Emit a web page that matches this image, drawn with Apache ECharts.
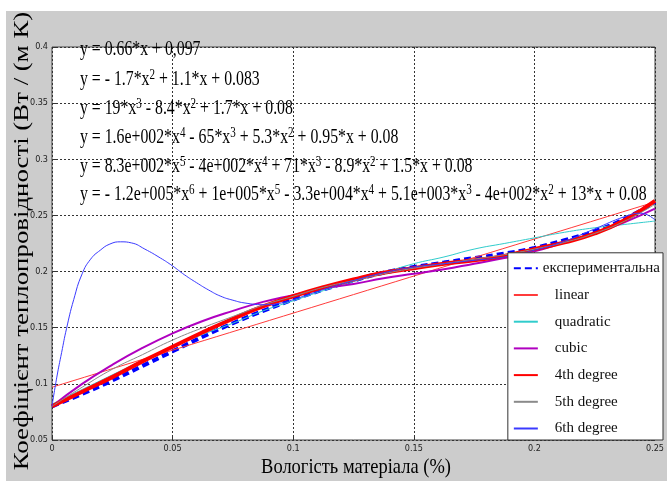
<!DOCTYPE html>
<html>
<head>
<meta charset="utf-8">
<script src="https://cdn.jsdelivr.net/npm/echarts@6/dist/echarts.min.js"></script>
<style>
html, body { margin: 0; padding: 0; background: #fff; }
#bg { position: absolute; left: 6px; top: 11px; width: 661px; height: 470px; background: #cccccc; }
#chart { position: absolute; left: 0; top: 0; width: 667px; height: 481px; }
</style>
</head>
<body>
<div id="bg"></div>
<div id="chart"></div>
<script>
const xs = [0, 0.0125, 0.025, 0.0375, 0.05, 0.0625, 0.075, 0.0875, 0.1, 0.1125, 0.125,
  0.1375, 0.15, 0.1625, 0.175, 0.1875, 0.2, 0.2125, 0.225, 0.2375, 0.25];

const experimental = [0.080, 0.091, 0.103, 0.116, 0.129, 0.142, 0.154, 0.165, 0.175, 0.184, 0.192,
  0.199, 0.204, 0.208, 0.212, 0.216, 0.221, 0.228, 0.236, 0.247, 0.262];
const quadratic = [0.082, 0.095, 0.108, 0.121, 0.133, 0.144, 0.154, 0.165, 0.174, 0.183, 0.191,
  0.199, 0.207, 0.213, 0.220, 0.225, 0.230, 0.235, 0.239, 0.242, 0.245];
const cubic = [0.080, 0.100, 0.117, 0.132, 0.145, 0.156, 0.165, 0.173, 0.179, 0.185, 0.189,
  0.194, 0.198, 0.202, 0.207, 0.212, 0.218, 0.226, 0.234, 0.244, 0.256];
const deg4 = [0.080, 0.093, 0.106, 0.120, 0.133, 0.146, 0.158, 0.169, 0.178, 0.186, 0.193,
  0.199, 0.203, 0.207, 0.210, 0.214, 0.220, 0.226, 0.234, 0.246, 0.263];
const deg5 = [0.080, 0.097, 0.113, 0.126, 0.139, 0.150, 0.160, 0.170, 0.178, 0.186, 0.192,
  0.198, 0.203, 0.207, 0.211, 0.215, 0.220, 0.226, 0.234, 0.245, 0.260];

const linearX = [0, 0.25];
const linear = [0.097, 0.262];

// 6th degree needs more points near the hump
const xs6 = [0, 0.002, 0.004, 0.006, 0.009, 0.0125, 0.016, 0.02, 0.024, 0.0285, 0.033, 0.0385,
  0.045, 0.05, 0.055, 0.06, 0.065, 0.07, 0.075, 0.08, 0.0875, 0.095, 0.1, 0.1125, 0.125, 0.1375,
  0.15, 0.1625, 0.175, 0.1875, 0.2, 0.2125, 0.225, 0.2375, 0.244, 0.25];
const deg6 = [0.080, 0.106, 0.128, 0.149, 0.175, 0.198, 0.211, 0.219, 0.2245, 0.2265, 0.2255, 0.220,
  0.212, 0.205, 0.197, 0.190, 0.1835, 0.178, 0.1745, 0.172, 0.1705, 0.172, 0.175, 0.184, 0.192, 0.199,
  0.204, 0.207, 0.210, 0.213, 0.219, 0.227, 0.238, 0.249, 0.252, 0.246];

const seriesNames = ['експериментальна', 'linear', 'quadratic', 'cubic', '4th degree', '5th degree', '6th degree'];

const yTicks = [0.05, 0.1, 0.15, 0.2, 0.25, 0.3, 0.35, 0.4];
const xTicks = [0, 0.05, 0.1, 0.15, 0.2, 0.25];

const equations = [
  'y = 0.66*x + 0,097',
  'y = - 1.7*x{s|2} + 1.1*x + 0.083',
  'y = 19*x{s|3} - 8.4*x{s|2} + 1.7*x + 0.08',
  'y = 1.6e+002*x{s|4} - 65*x{s|3} + 5.3*x{s|2} + 0.95*x + 0.08',
  'y = 8.3e+002*x{s|5} - 4e+002*x{s|4} + 71*x{s|3} - 8.9*x{s|2} + 1.5*x + 0.08',
  'y = - 1.2e+005*x{s|6} + 1e+005*x{s|5} - 3.3e+004*x{s|4} + 5.1e+003*x{s|3} - 4e+002*x{s|2} + 13*x + 0.08'
];
const eqY = [50, 80, 109, 138, 167, 195];

const chart = echarts.init(document.getElementById('chart'));

const pairs = (xArr, yArr) => xArr.map((x, i) => [x, yArr[i]]);

const line = (name, data, color, width, type) => ({
  name: name,
  type: 'line',
  data: data,
  symbol: 'none',
  smooth: true,
  lineStyle: { color: color, width: width, type: type || 'solid' },
  itemStyle: { color: color },
  emphasis: { disabled: true }
});

const tickFont = { fontFamily: 'Liberation Sans Narrow, DejaVu Sans Condensed, sans-serif', fontSize: 9, color: '#222' };
const serif = 'Liberation Serif, Times New Roman, serif';

const eqText = equations.map((t, i) => ({
  type: 'text',
  x: 80,
  y: eqY[i],
  scaleX: 0.79,
  z: 100,
  style: {
    text: t,
    fontFamily: serif,
    fontSize: 20,
    lineHeight: 24,
    fill: '#000',
    align: 'left',
    verticalAlign: 'middle',
    rich: {
      s: { fontFamily: serif, fontSize: 14, lineHeight: 14, verticalAlign: 'top', fill: '#000' }
    }
  }
}));

const option = {
  animation: false,
  grid: {
    left: 52, right: 4, top: 47, bottom: 41,
    show: true, backgroundColor: '#fff', borderColor: '#444', borderWidth: 1
  },
  xAxis: {
    type: 'value',
    min: xTicks[0], max: xTicks[xTicks.length - 1], interval: 0.05,
    axisLine: { show: false },
    axisTick: { show: true, inside: true, length: 4, lineStyle: { color: '#333' } },
    axisLabel: Object.assign({ margin: 4, showMaxLabel: true, showMinLabel: true, alignMaxLabel: 'center', alignMinLabel: 'center' }, tickFont),
    splitLine: { show: true, lineStyle: { color: '#333', type: [2, 2], width: 1 } }
  },
  yAxis: [{
    type: 'value',
    min: yTicks[0], max: yTicks[yTicks.length - 1], interval: 0.05,
    axisLine: { show: false },
    axisTick: { show: true, inside: true, length: 4, lineStyle: { color: '#333' } },
    axisLabel: Object.assign({ margin: 4 }, tickFont),
    splitLine: { show: true, lineStyle: { color: '#333', type: [2, 2], width: 1 } }
  }, {
    type: 'value', position: 'right',
    min: yTicks[0], max: yTicks[yTicks.length - 1], interval: 0.05,
    axisLine: { show: false },
    axisTick: { show: true, inside: true, length: 4, lineStyle: { color: '#333' } },
    axisLabel: { show: false },
    splitLine: { show: false }
  }],
  legend: {
    data: seriesNames,
    orient: 'vertical',
    right: 4,
    bottom: 41,
    backgroundColor: '#fff',
    borderColor: '#333',
    borderWidth: 1,
    borderRadius: 0,
    padding: [8, 3, 4, 5],
    itemGap: 11.7,
    itemWidth: 24,
    itemHeight: 17,
    itemStyle: { opacity: 0 },
    inactiveColor: '#ccc',
    textStyle: { fontFamily: serif, fontSize: 15, color: '#111', rich: { g: { width: 12 } } },
    formatter: n => (n === seriesNames[0] ? n : '{g|}' + n)
  },
  graphic: eqText.concat([
    {
      type: 'text', x: 356, y: 467, scaleX: 0.84,
      style: { text: 'Вологість матеріала (%)', fontFamily: serif, fontSize: 22, fill: '#000', align: 'center', verticalAlign: 'middle' }
    },
    {
      type: 'text', x: 22, y: 241, rotation: Math.PI / 2, scaleX: 1.22,
      style: { text: 'Коефіцієнт теплопровідності (Вт / (м К)', fontFamily: serif, fontSize: 22, fill: '#000', align: 'center', verticalAlign: 'middle' }
    }
  ]),
  series: [
    line(seriesNames[0], pairs(xs, experimental), '#0000ff', 4, [7, 4]),
    line(seriesNames[1], pairs(linearX, linear), '#ff3b3b', 1),
    line(seriesNames[2], pairs(xs, quadratic), '#30cccc', 1),
    line(seriesNames[3], pairs(xs, cubic), '#b000c0', 2),
    line(seriesNames[4], pairs(xs, deg4), '#ff0000', 4),
    line(seriesNames[5], pairs(xs, deg5), '#8a8a8a', 1),
    line(seriesNames[6], pairs(xs6, deg6), '#3a3aff', 1)
  ]
};

chart.setOption(option);
</script>
</body>
</html>
